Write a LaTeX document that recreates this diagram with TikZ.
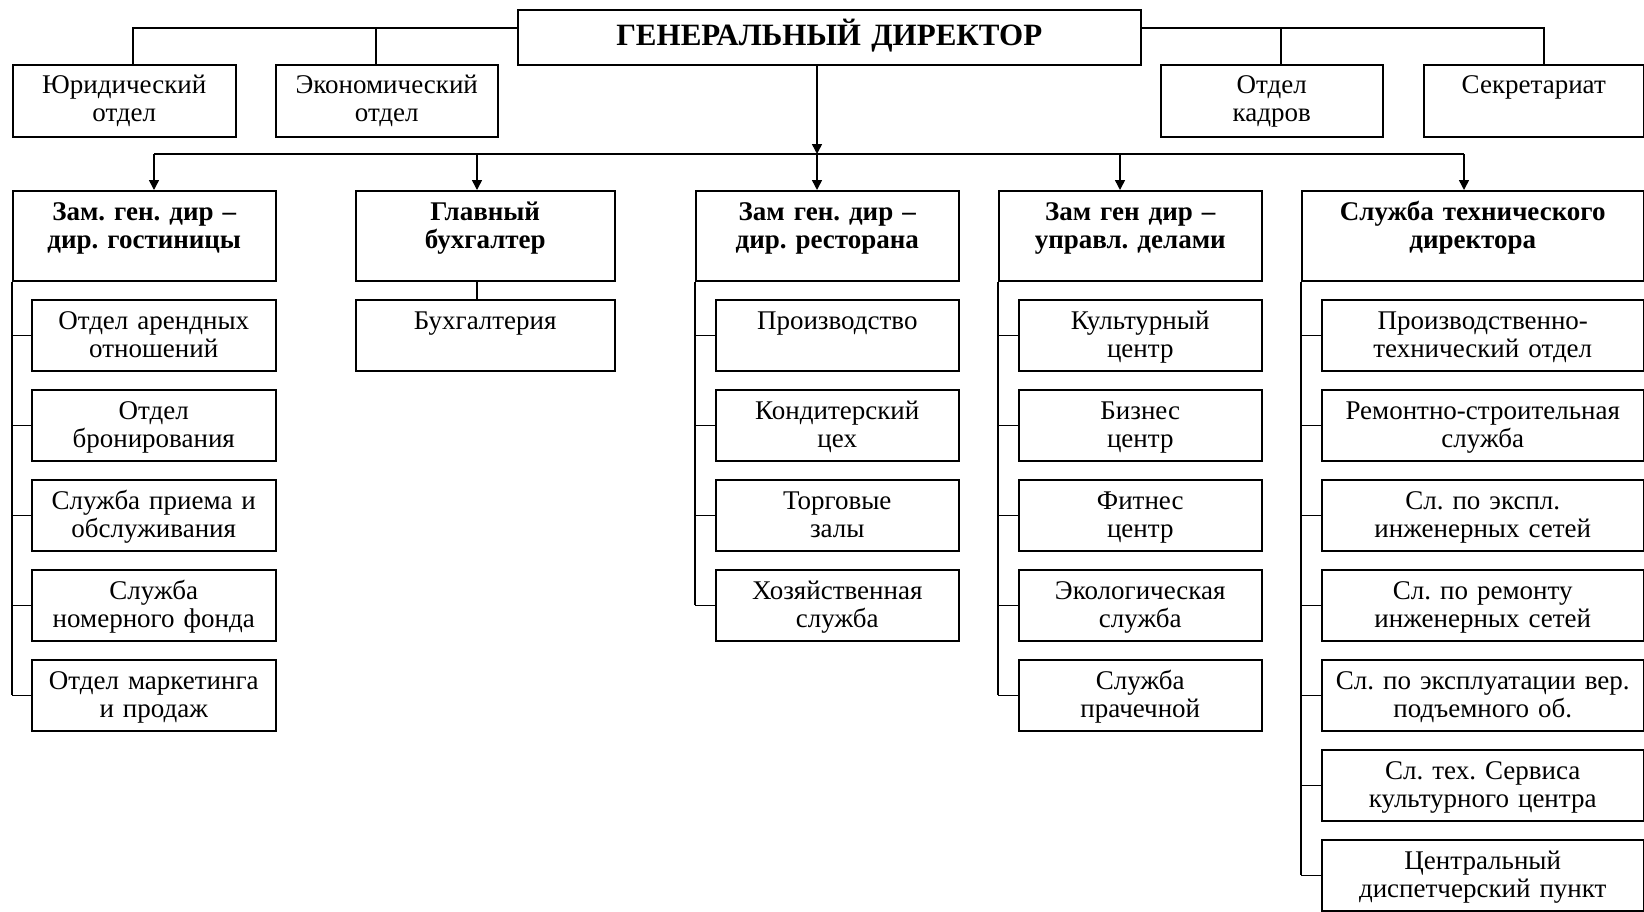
\documentclass[tikz,border=0pt]{standalone}
\usepackage{fontspec}
\setmainfont{Liberation Serif}
\usetikzlibrary{arrows.meta}
\frenchspacing
\tikzset{
  bx/.style={draw=black, line width=1.5pt, inner sep=0pt, align=center, anchor=north west,
             font=\frenchspacing\fontsize{27}{28}\selectfont},
  sub/.style={bx, text height=30pt, text depth=41pt},
  lvl/.style={bx, font=\frenchspacing\bfseries\fontsize{27}{28}\selectfont, text height=30pt, text depth=60pt},
  topb/.style={bx, text height=29pt, text depth=43pt},
  ln/.style={line width=1.5pt, draw=black},
  arr/.style={ln, -{Triangle[width=10pt,length=10pt]}},
}
\begin{document}
\begin{tikzpicture}[x=1pt,y=-1pt]
\useasboundingbox (0,0) rectangle (1644,911);
\fill[white] (0,0) rectangle (1644,911);

% general director
\node[bx, font=\bfseries\fontsize{31}{32}\selectfont, text width=623pt, text height=36pt, text depth=19pt] (gd) at (517,9) {ГЕНЕРАЛЬНЫЙ ДИРЕКТОР};

% top row
\node[topb, text width=223pt] (yur) at (12,64) {Юридический\\отдел};
\node[topb, text width=222pt] (ek) at (275,64) {Экономический\\отдел};
\node[topb, text width=222pt] (ok) at (1160,64) {Отдел\\кадров};
\node[topb, text width=220pt] (sek) at (1423,64) {Секретариат};

% level 2
\node[lvl, text width=263pt] (g1) at (12,190) {Зам. ген. дир –\\дир. гостиницы};
\node[lvl, text width=259pt] (g2) at (355,190) {Главный\\бухгалтер};
\node[lvl, text width=263pt] (g3) at (695,190) {Зам ген. дир –\\дир. ресторана};
\node[lvl, text width=263pt] (g4) at (998,190) {Зам ген дир –\\управл. делами};
\node[lvl, text width=342pt] (g5) at (1301,190) {Служба технического\\директора};

% column 1
\node[sub, text width=244pt] (a1) at (31,299) {Отдел арендных\\отношений};
\node[sub, text width=244pt] (a2) at (31,389) {Отдел\\бронирования};
\node[sub, text width=244pt] (a3) at (31,479) {Служба приема и\\обслуживания};
\node[sub, text width=244pt] (a4) at (31,569) {Служба\\номерного фонда};
\node[sub, text width=244pt] (a5) at (31,659) {Отдел маркетинга\\и продаж};
% column 2
\node[sub, text width=259pt] (b1) at (355,299) {Бухгалтерия};
% column 3
\node[sub, text width=243pt] (c1) at (715,299) {Производство};
\node[sub, text width=243pt] (c2) at (715,389) {Кондитерский\\цех};
\node[sub, text width=243pt] (c3) at (715,479) {Торговые\\залы};
\node[sub, text width=243pt] (c4) at (715,569) {Хозяйственная\\служба};
% column 4
\node[sub, text width=243pt] (d1) at (1018,299) {Культурный\\центр};
\node[sub, text width=243pt] (d2) at (1018,389) {Бизнес\\центр};
\node[sub, text width=243pt] (d3) at (1018,479) {Фитнес\\центр};
\node[sub, text width=243pt] (d4) at (1018,569) {Экологическая\\служба};
\node[sub, text width=243pt] (d5) at (1018,659) {Служба\\прачечной};
% column 5
\node[sub, text width=322pt] (e1) at (1321,299) {Производственно-\\технический отдел};
\node[sub, text width=322pt] (e2) at (1321,389) {Ремонтно-строительная\\служба};
\node[sub, text width=322pt] (e3) at (1321,479) {Сл. по экспл.\\инженерных сетей};
\node[sub, text width=322pt] (e4) at (1321,569) {Сл. по ремонту\\инженерных сетей};
\node[sub, text width=322pt] (e5) at (1321,659) {Сл. по эксплуатации вер.\\подъемного об.};
\node[sub, text width=322pt] (e6) at (1321,749) {Сл. тех. Сервиса\\культурного центра};
\node[sub, text width=322pt] (e7) at (1321,839) {Центральный\\диспетчерский пункт};

% top connectors
\coordinate (vyur) at (133,28);
\coordinate (vek) at (376,28);
\coordinate (vok) at (1281,28);
\coordinate (vsek) at (1544,28);
\draw[ln] (gd.west |- vyur) -- (vyur) -- (vyur |- yur.north);
\draw[ln] (vek) -- (vek |- ek.north);
\draw[ln] (gd.east |- vsek) -- (vsek) -- (vsek |- sek.north);
\draw[ln] (vok) -- (vok |- ok.north);

% bus to level 2
\coordinate (k1) at (154,154);
\coordinate (k2) at (477,154);
\coordinate (k3) at (817,154);
\coordinate (k4) at (1120,154);
\coordinate (k5) at (1464,154);
\draw[arr] (gd.south -| k3) -- (k3);
\draw[ln] (k1) -- (k5);
\draw[arr] (k1) -- (k1 |- g1.north);
\draw[arr] (k2) -- (k2 |- g2.north);
\draw[arr] (k3) -- (k3 |- g3.north);
\draw[arr] (k4) -- (k4 |- g4.north);
\draw[arr] (k5) -- (k5 |- g5.north);

% Бухгалтерия
\draw[ln] (g2.south -| k2) -- (k2 |- b1.north);

% spines
\draw[ln] (g1.south west) -- (g1.south west |- a5.west);
\foreach \n in {a1,a2,a3,a4,a5} \draw[ln] (g1.south west |- \n.west) -- (\n.west);
\draw[ln] (g3.south west) -- (g3.south west |- c4.west);
\foreach \n in {c1,c2,c3,c4} \draw[ln] (g3.south west |- \n.west) -- (\n.west);
\draw[ln] (g4.south west) -- (g4.south west |- d5.west);
\foreach \n in {d1,d2,d3,d4,d5} \draw[ln] (g4.south west |- \n.west) -- (\n.west);
\draw[ln] (g5.south west) -- (g5.south west |- e7.west);
\foreach \n in {e1,e2,e3,e4,e5,e6,e7} \draw[ln] (g5.south west |- \n.west) -- (\n.west);
\end{tikzpicture}
\end{document}
